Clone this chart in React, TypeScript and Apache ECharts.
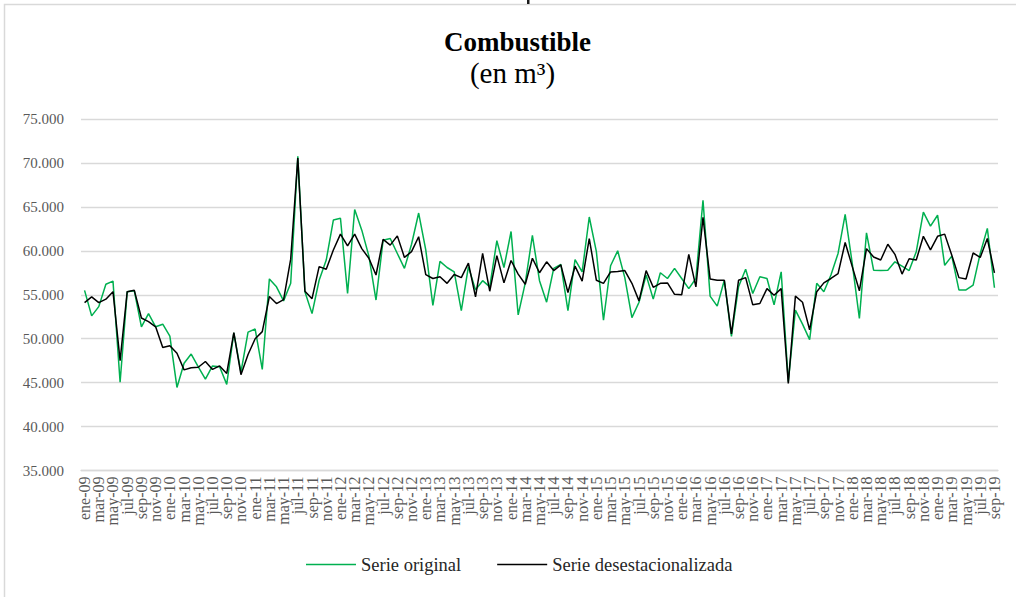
import React, { useEffect, useRef } from "react";
import * as echarts from "echarts";

const MONTHS = ["ene", "feb", "mar", "abr", "may", "jun", "jul", "ago", "sep", "oct", "nov", "dic"];
const YEARS = ["09", "10", "11", "12", "13", "14", "15", "16", "17", "18", "19"];
const LAST_MONTH_2019 = 9;

const categories: string[] = [];
YEARS.forEach((y) => {
  MONTHS.forEach((m, mi) => {
    if (y === "19" && mi >= LAST_MONTH_2019) return;
    categories.push(`${m}-${y}`);
  });
});

const serieOriginal = [
  55500, 52600, 53650, 56200, 56550, 45050, 55350, 55450, 51350, 52850,
  51350, 51650, 50300, 44450, 47200, 48250, 46800, 45400, 46900, 46800,
  44800, 50650, 46200, 50750, 51100, 46500, 56800, 55900, 54300, 56300,
  70750, 55350, 52850, 56650, 58950, 63500, 63700, 55150, 64700, 62350,
  59400, 54400, 61200, 61400, 59700, 58000, 60750, 64300, 60100, 53800,
  58800, 58100, 57600, 53200, 58200, 55550, 56600, 55900, 61150, 58100,
  62200, 52700, 56350, 61750, 56600, 54150, 58000, 58450, 53200, 59000,
  57600, 63850, 59900, 52100, 58300, 60000, 56950, 52400, 54150, 57250,
  54500, 57500, 56850, 58000, 56850, 55700, 56850, 65750, 54850, 53700,
  56650, 50250, 55900, 57900, 55150, 57050, 56850, 53850, 57600, 45100,
  53250, 51650, 49900, 56300, 55350, 57250, 59700, 64150, 58550, 52300,
  62050, 57800, 57750, 57800, 58750, 58250, 57750, 59900, 64400, 62800,
  64050, 58350, 59400, 55550, 55550, 56100, 59700, 62550, 55800,
];

const serieDesestacionalizada = [
  54100, 54750, 54100, 54500, 55350, 47500, 55350, 55500, 52350, 51950,
  51350, 49000, 49200, 48350, 46450, 46700, 46750, 47400, 46500, 46900,
  46050, 50700, 45900, 48200, 50000, 50800, 54800, 54000, 54450, 59050,
  70550, 55400, 54550, 58200, 57900, 60100, 61900, 60550, 61900, 60250,
  59150, 57250, 61300, 60650, 61700, 59250, 59900, 61600, 57300, 56850,
  57050, 56300, 57300, 56950, 58600, 54750, 59700, 55400, 59450, 56350,
  58900, 57350, 56200, 59150, 57500, 58750, 57750, 58400, 55250, 58250,
  56550, 61400, 56650, 56300, 57600, 57650, 57750, 56300, 54300, 57750,
  55850, 56300, 56350, 55050, 55000, 59600, 55900, 63800, 56800, 56650,
  56650, 50550, 56650, 56950, 53850, 54000, 55700, 54950, 55700, 44900,
  54850, 54150, 51000, 55350, 56350, 56850, 57400, 60950, 58200, 55450,
  60250, 59300, 58950, 60750, 59600, 57350, 59100, 58950, 61650, 60100,
  61650, 61900, 59500, 56950, 56800, 59750, 59250, 61400, 57500,
];

const Y_MIN = 35000;
const Y_MAX = 75000;
const Y_STEP = 5000;
const LABEL_EVERY = 2;

const TITLE = "Combustible";
const SUBTITLE = "(en m³)";
const SERIES_NAMES = ["Serie original", "Serie desestacionalizada"];

const FONT = "'Liberation Serif', 'Times New Roman', serif";

const fmt = (v: number) => String(v).replace(/\B(?=(\d{3})+(?!\d))/g, ".");

export default function App() {
  const ref = useRef<HTMLDivElement>(null);

  useEffect(() => {
    if (!ref.current) return;
    const chart = echarts.init(ref.current, undefined, { renderer: "svg" });
    chart.setOption({
      animation: false,
      backgroundColor: "#ffffff",
      legend: {
        top: 555,
        left: 306,
        padding: 0,
        icon: "rect",
        itemWidth: 50,
        itemHeight: 1.6,
        itemGap: 36,
        textStyle: { fontFamily: FONT, fontSize: 18.5, color: "#262626" },
        data: SERIES_NAMES,
      },
      grid: { left: 81, right: 18, top: 119, bottom: 126.5, containLabel: false },
      xAxis: {
        type: "category",
        data: categories,
        boundaryGap: true,
        axisLine: { lineStyle: { color: "#d9d9d9", width: 1.3 } },
        axisTick: { show: false },
        axisLabel: {
          interval: 0,
          rotate: 90,
          hideOverlap: false,
          formatter: (value: string, index: number) => (index % LABEL_EVERY === 0 ? value : ""),
          fontFamily: FONT,
          fontSize: 16,
          color: "#595959",
          margin: 6,
        },
      },
      yAxis: {
        type: "value",
        min: Y_MIN,
        max: Y_MAX,
        interval: Y_STEP,
        axisLine: { show: false },
        axisTick: { show: false },
        axisLabel: {
          formatter: (v: number) => fmt(v),
          fontFamily: FONT,
          fontSize: 15,
          color: "#595959",
          margin: 17,
        },
        splitLine: { lineStyle: { color: "#d9d9d9", width: 1.3 } },
      },
      series: [
        {
          name: SERIES_NAMES[0],
          type: "line",
          data: serieOriginal,
          symbol: "none",
          lineStyle: { color: "#00b050", width: 1.5 },
          itemStyle: { color: "#00b050" },
        },
        {
          name: SERIES_NAMES[1],
          type: "line",
          data: serieDesestacionalizada,
          symbol: "none",
          lineStyle: { color: "#000000", width: 1.5 },
          itemStyle: { color: "#000000" },
        },
      ],
      graphic: [
        {
          type: "rect",
          shape: { x: 4.5, y: 4.5, width: 1100, height: 700 },
          style: { fill: "none", stroke: "#d9d9d9", lineWidth: 1.5 },
          silent: true,
        },
        {
          type: "rect",
          shape: { x: 527, y: 0, width: 2.5, height: 4 },
          style: { fill: "#1a1a1a" },
          silent: true,
        },
        {
          type: "text",
          x: 517.5,
          y: 42,
          silent: true,
          style: {
            text: TITLE,
            fontFamily: FONT,
            fontSize: 27,
            fontWeight: "bold",
            fill: "#000000",
            align: "center",
            verticalAlign: "middle",
          },
        },
        {
          type: "text",
          x: 512.5,
          y: 72.5,
          silent: true,
          style: {
            text: SUBTITLE,
            fontFamily: FONT,
            fontSize: 29,
            fill: "#000000",
            align: "center",
            verticalAlign: "middle",
          },
        },
      ],
    });
    return () => chart.dispose();
  }, []);

  return (
    <div
      ref={ref}
      style={{ position: "fixed", left: 0, top: 0, width: 1016, height: 597 }}
    />
  );
}
